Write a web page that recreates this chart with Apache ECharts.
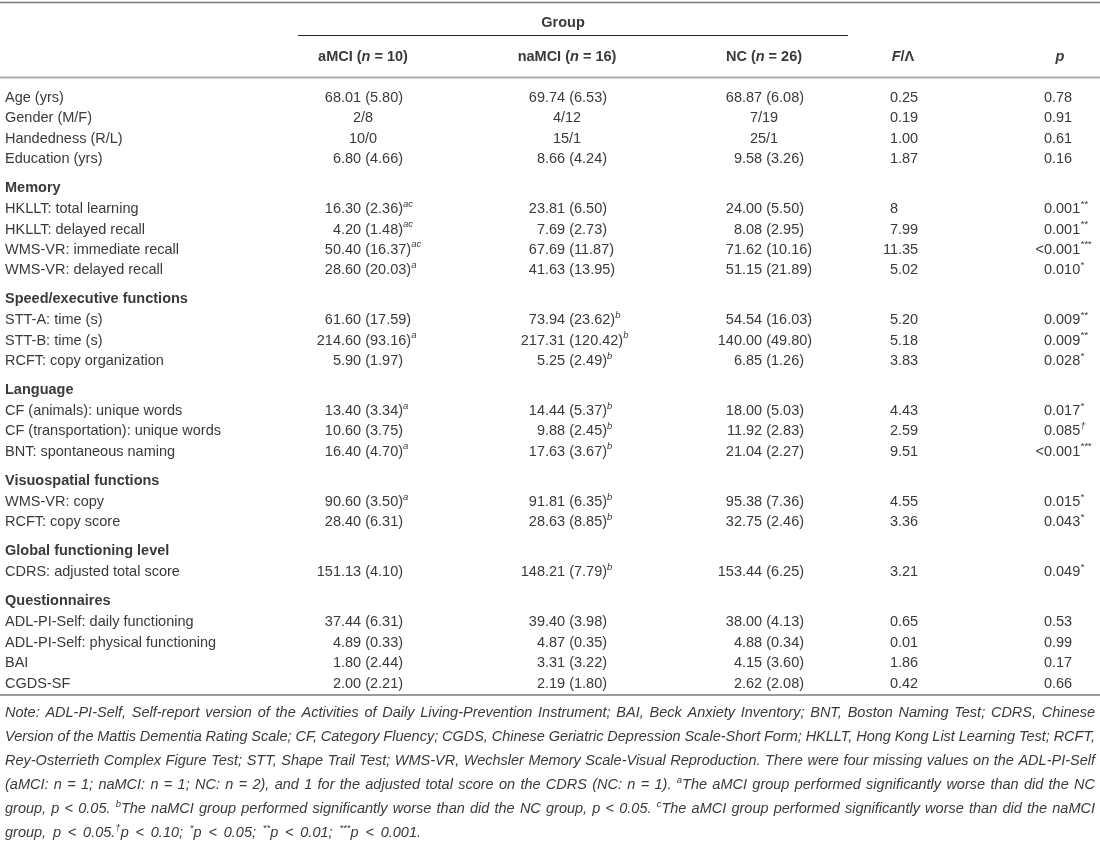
<!DOCTYPE html>
<html>
<head>
<meta charset="utf-8">
<script src="https://cdn.jsdelivr.net/npm/echarts@6/dist/echarts.min.js"></script>
<style>
  html, body { margin: 0; padding: 0; background: #fff; }
  #main { width: 1100px; height: 842px; }
</style>
</head>
<body>
<div id="main"></div>
<script>
// ---- table data ----
const sectionNames = ['', 'Memory', 'Speed/executive functions', 'Language', 'Visuospatial functions', 'Global functioning level', 'Questionnaires'];
const measures = [
  'Age (yrs)', 'Gender (M/F)', 'Handedness (R/L)', 'Education (yrs)',
  'HKLLT: total learning', 'HKLLT: delayed recall', 'WMS-VR: immediate recall', 'WMS-VR: delayed recall',
  'STT-A: time (s)', 'STT-B: time (s)', 'RCFT: copy organization',
  'CF (animals): unique words', 'CF (transportation): unique words', 'BNT: spontaneous naming',
  'WMS-VR: copy', 'RCFT: copy score',
  'CDRS: adjusted total score',
  'ADL-PI-Self: daily functioning', 'ADL-PI-Self: physical functioning', 'BAI', 'CGDS-SF'
];
const sectionOf = [0, 0, 0, 0, 1, 1, 1, 1, 2, 2, 2, 3, 3, 3, 4, 4, 5, 6, 6, 6, 6];
const groupHeads = ['aMCI', 'naMCI', 'NC'];
const groupN = [10, 16, 26];
const aMCI = ['68.01 (5.80)', '2/8', '10/0', '6.80 (4.66)', '16.30 (2.36)', '4.20 (1.48)', '50.40 (16.37)', '28.60 (20.03)',
  '61.60 (17.59)', '214.60 (93.16)', '5.90 (1.97)', '13.40 (3.34)', '10.60 (3.75)', '16.40 (4.70)', '90.60 (3.50)',
  '28.40 (6.31)', '151.13 (4.10)', '37.44 (6.31)', '4.89 (0.33)', '1.80 (2.44)', '2.00 (2.21)'];
const aMCISup = ['', '', '', '', 'ac', 'ac', 'ac', 'a', '', 'a', '', 'a', '', 'a', 'a', '', '', '', '', '', ''];
const naMCI = ['69.74 (6.53)', '4/12', '15/1', '8.66 (4.24)', '23.81 (6.50)', '7.69 (2.73)', '67.69 (11.87)', '41.63 (13.95)',
  '73.94 (23.62)', '217.31 (120.42)', '5.25 (2.49)', '14.44 (5.37)', '9.88 (2.45)', '17.63 (3.67)', '91.81 (6.35)',
  '28.63 (8.85)', '148.21 (7.79)', '39.40 (3.98)', '4.87 (0.35)', '3.31 (3.22)', '2.19 (1.80)'];
const naMCISup = ['', '', '', '', '', '', '', '', 'b', 'b', 'b', 'b', 'b', 'b', 'b', 'b', 'b', '', '', '', ''];
const NC = ['68.87 (6.08)', '7/19', '25/1', '9.58 (3.26)', '24.00 (5.50)', '8.08 (2.95)', '71.62 (10.16)', '51.15 (21.89)',
  '54.54 (16.03)', '140.00 (49.80)', '6.85 (1.26)', '18.00 (5.03)', '11.92 (2.83)', '21.04 (2.27)', '95.38 (7.36)',
  '32.75 (2.46)', '153.44 (6.25)', '38.00 (4.13)', '4.88 (0.34)', '4.15 (3.60)', '2.62 (2.08)'];
const fValues = ['0.25', '0.19', '1.00', '1.87', '8', '7.99', '11.35', '5.02', '5.20', '5.18', '3.83', '4.43', '2.59', '9.51',
  '4.55', '3.36', '3.21', '0.65', '0.01', '1.86', '0.42'];
const pValues = ['0.78', '0.91', '0.61', '0.16', '0.001', '0.001', '<0.001', '0.010', '0.009', '0.009', '0.028', '0.017',
  '0.085', '<0.001', '0.015', '0.043', '0.049', '0.53', '0.99', '0.17', '0.66'];
const pSup = ['', '', '', '', '**', '**', '***', '*', '**', '**', '*', '*', '†', '***', '*', '*', '*', '', '', '', ''];
const noteLines = [
  'Note: ADL-PI-Self, Self-report version of the Activities of Daily Living-Prevention Instrument; BAI, Beck Anxiety Inventory; BNT, Boston Naming Test; CDRS, Chinese',
  'Version of the Mattis Dementia Rating Scale; CF, Category Fluency; CGDS, Chinese Geriatric Depression Scale-Short Form; HKLLT, Hong Kong List Learning Test; RCFT,',
  'Rey-Osterrieth Complex Figure Test; STT, Shape Trail Test; WMS-VR, Wechsler Memory Scale-Visual Reproduction. There were four missing values on the ADL-PI-Self',
  '(aMCI: n = 1; naMCI: n = 1; NC: n = 2), and 1 for the adjusted total score on the CDRS (NC: n = 1). {sup|a}The aMCI group performed significantly worse than did the NC',
  'group, p < 0.05. {sup|b}The naMCI group performed significantly worse than did the NC group, p < 0.05. {sup|c}The aMCI group performed significantly worse than did the naMCI',
  'group, p < 0.05.{sup|†}p < 0.10; {sup|*}p < 0.05; {sup|**}p < 0.01; {sup|***}p < 0.001.'
];

// ---- layout / style ----
const FAM = '"Liberation Sans", Arial, Helvetica, sans-serif';
const INK = '#3a3a3a';
const FS = 14.5;
const fnt = (s, size) => s + ' ' + (size || FS) + 'px ' + FAM;
const RICH = {
  sup: { font: fnt('italic', 9.5), verticalAlign: 'top', lineHeight: 10 },
  b: { font: fnt('bold') },
  bi: { font: fnt('italic bold') }
};
const COL = { label: 5, dec: [341, 545, 742], mid: [363, 567, 764], f: 898, fMid: 903, p: 1052, pMid: 1060 };

// row positions (in y-axis units)
const rows = [];
let yy = 98;
sectionOf.forEach(function (s, i) {
  if (i > 0 && s !== sectionOf[i - 1]) {
    yy += 28.8;
    rows.push({ y: yy, head: sectionNames[s] });
    yy += 21.3;
  } else if (i > 0) {
    yy += 20.35;
  }
  rows.push({ y: yy, idx: i });
});

function textEl(x, y, text, align, font) {
  return {
    type: 'text', x: x, y: y, silent: true,
    style: {
      text: text, font: font || fnt('normal'), fill: INK,
      align: align, verticalAlign: 'middle', textAlign: align, textVerticalAlign: 'middle',
      lineHeight: 20, rich: RICH
    }
  };
}

// split at the decimal point: integer part right of the point, the rest left
function decCell(kids, p, str, sup) {
  const dot = str.indexOf('.');
  const head = dot < 0 ? str : str.slice(0, dot);
  const tail = (dot < 0 ? '' : str.slice(dot)) + (sup ? '{sup|' + sup + '}' : '');
  kids.push(textEl(p[0], p[1], head, 'right'));
  if (tail) kids.push(textEl(p[0], p[1], tail, 'left'));
}

const groupCols = [[aMCI, aMCISup], [naMCI, naMCISup], [NC, null]];

function renderRow(params, api) {
  const r = rows[api.value(2)];
  const yv = api.value(1);
  const at = function (x) { return api.coord([x, yv]); };
  const kids = [];
  if (r.head) {
    const p = at(COL.label);
    kids.push(textEl(p[0], p[1], r.head, 'left', fnt('bold')));
    return { type: 'group', children: kids };
  }
  const i = r.idx;
  let p = at(COL.label);
  kids.push(textEl(p[0], p[1], measures[i], 'left'));
  groupCols.forEach(function (g, c) {
    const v = g[0][i];
    const sup = g[1] ? g[1][i] : '';
    if (v.indexOf('/') >= 0) {
      p = at(COL.mid[c]);
      kids.push(textEl(p[0], p[1], v, 'center'));
    } else {
      decCell(kids, at(COL.dec[c]), v, sup);
    }
  });
  decCell(kids, at(COL.f), fValues[i], '');
  decCell(kids, at(COL.p), pValues[i], pSup[i]);
  return { type: 'group', children: kids };
}

// ---- header, rules and note ----
const graphics = [];
function hline(x1, x2, y, color, w) {
  graphics.push({ type: 'line', silent: true, shape: { x1: x1, y1: y, x2: x2, y2: y }, style: { stroke: color, lineWidth: w } });
}
hline(0, 1100, 2.5, '#7a7a7a', 1.5);
hline(298, 848, 35.5, '#222', 1);
hline(0, 1100, 77.5, '#ababab', 2);
hline(0, 1100, 695, '#7a7a7a', 1.5);

graphics.push(textEl(563, 23, 'Group', 'center', fnt('bold')));
groupHeads.forEach(function (h, c) {
  graphics.push(textEl(COL.mid[c], 57, '{b|' + h + ' (}{bi|n}{b| = ' + groupN[c] + ')}', 'center', fnt('bold')));
});
graphics.push(textEl(COL.fMid, 57, '{bi|F}{b|/Λ}', 'center', fnt('bold')));
graphics.push(textEl(COL.pMid, 57, '{bi|p}', 'center', fnt('bold')));

const NOTE_FONT = fnt('italic', 14.5);
const SUP_FONT = RICH.sup.font;
const ctx = document.createElement('canvas').getContext('2d');
function measure(word) {
  let w = 0;
  word.split(/(\{sup\|[^}]*\})/).forEach(function (part) {
    if (!part) return;
    const m = part.match(/^\{sup\|([^}]*)\}$/);
    ctx.font = m ? SUP_FONT : NOTE_FONT;
    w += ctx.measureText(m ? m[1] : part).width;
  });
  return w;
}
// justified note block; the last line runs out at NOTE_LAST_R
const NOTE_L = 5, NOTE_R = 1095, NOTE_LAST_R = 421;
noteLines.forEach(function (line, li) {
  const y = 713 + li * 24;
  const words = line.split(' ');
  const widths = words.map(measure);
  const total = widths.reduce(function (a, b) { return a + b; }, 0);
  const right = li === noteLines.length - 1 ? NOTE_LAST_R : NOTE_R;
  const gap = Math.max(2, (right - NOTE_L - total) / (words.length - 1));
  let x = NOTE_L;
  words.forEach(function (w, wi) {
    graphics.push(textEl(x, y, w, 'left', NOTE_FONT));
    x += widths[wi] + gap;
  });
});

const chart = echarts.init(document.getElementById('main'));
chart.setOption({
  animation: false,
  backgroundColor: '#fff',
  grid: { left: 0, right: 0, top: 0, bottom: 0 },
  xAxis: { type: 'value', min: 0, max: 1100, show: false },
  yAxis: { type: 'value', min: 0, max: 842, inverse: true, show: false },
  graphic: { elements: graphics },
  series: [{
    type: 'custom',
    coordinateSystem: 'cartesian2d',
    silent: true,
    clip: false,
    renderItem: renderRow,
    data: rows.map(function (r, k) { return [0, r.y, k]; })
  }]
});
</script>
</body>
</html>
